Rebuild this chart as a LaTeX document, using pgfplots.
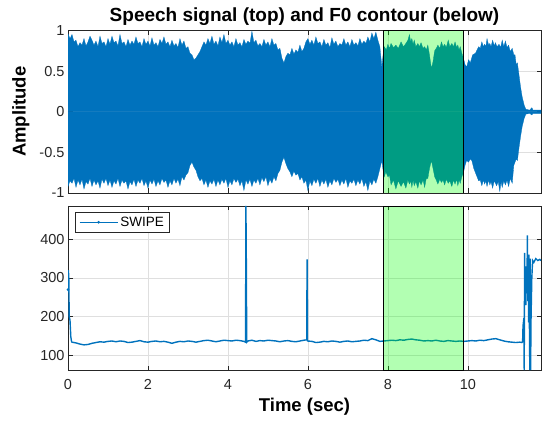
\documentclass[border=0pt]{standalone}
\usepackage{fontspec}
\setmainfont{Liberation Sans}
\usepackage{pgfplots}
\pgfplotsset{compat=1.18}

\definecolor{mblue}{RGB}{0,114,189}
\definecolor{axgray}{RGB}{38,38,38}
\definecolor{gridc}{RGB}{223,223,223}

\pgfplotsset{
  layers/gridbelow/.define layer set={axis background,axis grid,main,axis ticks,axis lines,axis tick labels,axis descriptions,axis foreground}{},
  matlab/.style={
    set layers=gridbelow,
    scale only axis,
    width=473pt,
    xmin=0, xmax=11.83,
    xtick={0,2,4,6,8,10},
    tick align=inside,
    major tick length=4.5pt,
    axis line style={color=axgray, line width=0.6pt},
    every tick/.style={color=axgray, line width=0.6pt},
    grid=major,
    grid style={color=gridc, line width=0.6pt},
    tick label style={font=\fontsize{14.5}{16}\selectfont, color=axgray},
    label style={font=\bfseries\fontsize{18.5}{20}\selectfont, color=black},
    ylabel style={at={(axis description cs:-0.0995,0.5)}, anchor=center},
  },
}

\begin{document}
\begin{tikzpicture}

% top: speech waveform (upper and lower envelope)
\begin{axis}[matlab,
  at={(68pt,230pt)}, anchor=south west,
  height=162.5pt,
  ymin=-1, ymax=1,
  ytick={-1,-0.5,0,0.5,1},
  yticklabels={-1,-0.5,0,0.5,1},
  xticklabels={},
  ylabel={Amplitude},
]
\addplot[fill=mblue, draw=mblue, line width=0.3pt] coordinates {
(0.00,0)
(0.00,0.96)(0.05,0.90)(0.10,0.95)(0.15,0.86)(0.20,0.88)(0.25,0.80)(0.30,0.85)(0.35,0.82)(0.40,0.90)(0.45,0.81)(0.50,0.86)(0.55,0.93)(0.60,0.88)(0.65,0.82)(0.70,0.87)(0.75,0.80)(0.80,0.93)(0.85,0.84)(0.90,0.86)(0.95,0.80)
(1.00,0.90)(1.05,0.83)(1.10,0.93)(1.15,0.85)(1.20,0.87)(1.25,0.81)(1.30,0.95)(1.35,0.84)(1.40,0.86)(1.45,0.80)(1.50,0.89)(1.55,0.82)(1.60,0.87)(1.65,0.83)(1.70,0.92)(1.75,0.84)(1.80,0.86)(1.85,0.80)(1.90,0.90)(1.95,0.83)
(2.00,0.87)(2.05,0.81)(2.10,0.91)(2.15,0.82)(2.20,0.85)(2.25,0.80)(2.30,0.89)(2.35,0.84)(2.40,0.92)(2.45,0.83)(2.50,0.86)(2.55,0.80)(2.60,0.88)(2.65,0.81)(2.70,0.84)(2.75,0.79)(2.80,0.90)(2.85,0.82)(2.90,0.87)(2.95,0.78)
(3.00,0.80)(3.05,0.72)(3.10,0.70)(3.15,0.64)(3.20,0.66)(3.25,0.70)(3.30,0.74)(3.35,0.80)(3.40,0.86)(3.45,0.82)(3.50,0.90)(3.55,0.84)(3.60,0.93)(3.65,0.83)(3.70,0.87)(3.75,0.81)(3.80,0.92)(3.85,0.85)(3.90,0.95)(3.95,0.84)
(4.00,0.88)(4.05,0.82)(4.10,0.86)(4.15,0.80)(4.20,0.90)(4.25,0.82)(4.30,0.85)(4.35,0.80)(4.40,0.89)(4.45,0.83)(4.50,0.87)(4.55,0.84)(4.60,0.99)(4.65,0.85)(4.70,0.88)(4.75,0.81)(4.80,0.84)(4.85,0.80)(4.90,0.89)(4.95,0.82)
(5.00,0.86)(5.05,0.80)(5.10,0.90)(5.15,0.82)(5.20,0.84)(5.25,0.76)(5.30,0.78)(5.35,0.66)(5.40,0.60)(5.45,0.68)(5.50,0.72)(5.55,0.70)(5.60,0.78)(5.65,0.71)(5.70,0.76)(5.75,0.73)(5.80,0.82)(5.85,0.74)(5.90,0.78)(5.95,0.86)
(6.00,0.90)(6.05,0.83)(6.10,0.88)(6.15,0.82)(6.20,0.92)(6.25,0.84)(6.30,0.86)(6.35,0.80)(6.40,0.89)(6.45,0.82)(6.50,0.85)(6.55,0.79)(6.60,0.91)(6.65,0.83)(6.70,0.87)(6.75,0.80)(6.80,0.84)(6.85,0.82)(6.90,0.90)(6.95,0.82)
(7.00,0.86)(7.05,0.80)(7.10,0.89)(7.15,0.82)(7.20,0.85)(7.25,0.81)(7.30,0.90)(7.35,0.83)(7.40,0.87)(7.45,0.84)(7.50,0.92)(7.55,0.86)(7.60,0.97)(7.65,0.90)(7.70,0.98)(7.75,0.88)(7.80,0.80)(7.85,0.55)
(7.88,0.70)(7.91,0.80)(7.96,0.76)(8.00,0.83)(8.04,0.78)(8.08,0.84)(8.14,0.79)(8.20,0.82)(8.26,0.78)(8.33,0.86)(8.39,0.80)(8.45,0.84)(8.50,0.88)(8.54,0.95)(8.57,0.86)(8.60,0.90)(8.63,0.83)(8.66,0.88)(8.70,0.80)(8.75,0.84)
(8.79,0.80)(8.83,0.85)(8.88,0.78)(8.92,0.80)(8.96,0.76)(9.00,0.82)(9.04,0.70)(9.09,0.53)(9.13,0.62)(9.17,0.75)(9.21,0.78)(9.25,0.82)(9.30,0.78)(9.34,0.86)(9.38,0.80)(9.42,0.83)(9.46,0.79)(9.51,0.88)(9.55,0.80)(9.60,0.84)
(9.64,0.80)(9.68,0.86)(9.72,0.79)(9.75,0.82)(9.78,0.76)(9.81,0.80)(9.85,0.72)(9.89,0.66)(9.93,0.58)(9.97,0.55)(10.02,0.64)(10.06,0.60)(10.12,0.70)(10.19,0.72)(10.23,0.76)(10.27,0.80)(10.31,0.78)(10.35,0.86)(10.39,0.80)(10.42,0.83)
(10.45,0.80)(10.48,0.90)(10.52,0.82)(10.55,0.84)(10.58,0.80)(10.62,0.88)(10.66,0.81)(10.69,0.85)(10.73,0.80)(10.78,0.83)(10.82,0.79)(10.86,0.88)(10.90,0.80)(10.94,0.87)(10.98,0.79)(11.02,0.82)(11.06,0.74)(11.11,0.78)(11.15,0.70)(11.18,0.70)
(11.21,0.58)(11.24,0.60)(11.28,0.45)(11.32,0.30)(11.36,0.18)(11.41,0.08)(11.45,0.03)(11.55,0.02)(11.60,0.05)(11.63,0.02)(11.75,0.02)(11.83,0.02)
(11.83,0)
} -- cycle;
\addplot[fill=mblue, draw=mblue, line width=0.3pt] coordinates {
(0.00,0)
(0.00,-0.92)(0.05,-0.85)(0.10,-0.88)(0.15,-0.82)(0.20,-0.93)(0.25,-0.84)(0.30,-0.90)(0.35,-0.83)(0.40,-0.95)(0.45,-0.86)(0.50,-0.89)(0.55,-0.82)(0.60,-0.92)(0.65,-0.84)(0.70,-0.90)(0.75,-0.85)(0.80,-0.94)(0.85,-0.83)(0.90,-0.88)(0.95,-0.82)
(1.00,-0.91)(1.05,-0.84)(1.10,-0.93)(1.15,-0.85)(1.20,-0.89)(1.25,-0.82)(1.30,-0.92)(1.35,-0.84)(1.40,-0.88)(1.45,-0.85)(1.50,-0.95)(1.55,-0.86)(1.60,-0.90)(1.65,-0.83)(1.70,-0.92)(1.75,-0.84)(1.80,-0.88)(1.85,-0.82)(1.90,-0.91)(1.95,-0.85)
(2.00,-0.94)(2.05,-0.84)(2.10,-0.89)(2.15,-0.83)(2.20,-0.92)(2.25,-0.85)(2.30,-0.90)(2.35,-0.82)(2.40,-0.87)(2.45,-0.84)(2.50,-0.93)(2.55,-0.85)(2.60,-0.90)(2.65,-0.82)(2.70,-0.88)(2.75,-0.83)(2.80,-0.91)(2.85,-0.80)(2.90,-0.84)(2.95,-0.78)
(3.00,-0.75)(3.05,-0.66)(3.10,-0.62)(3.15,-0.68)(3.20,-0.72)(3.25,-0.80)(3.30,-0.85)(3.35,-0.82)(3.40,-0.90)(3.45,-0.84)(3.50,-0.93)(3.55,-0.85)(3.60,-0.89)(3.65,-0.83)(3.70,-0.92)(3.75,-0.84)(3.80,-0.90)(3.85,-0.83)(3.90,-0.88)(3.95,-0.82)
(4.00,-0.93)(4.05,-0.85)(4.10,-0.90)(4.15,-0.82)(4.20,-0.87)(4.25,-0.83)(4.30,-0.91)(4.35,-0.85)(4.40,-0.97)(4.45,-0.84)(4.50,-0.89)(4.55,-0.83)(4.60,-0.92)(4.65,-0.84)(4.70,-0.88)(4.75,-0.82)(4.80,-0.90)(4.85,-0.81)(4.90,-0.86)(4.95,-0.80)
(5.00,-0.91)(5.05,-0.83)(5.10,-0.88)(5.15,-0.80)(5.20,-0.85)(5.25,-0.76)(5.30,-0.72)(5.35,-0.62)(5.40,-0.56)(5.45,-0.64)(5.50,-0.70)(5.55,-0.74)(5.60,-0.80)(5.65,-0.73)(5.70,-0.78)(5.75,-0.76)(5.80,-0.84)(5.85,-0.80)(5.90,-0.88)(5.95,-0.84)
(6.00,-0.97)(6.05,-0.85)(6.10,-0.91)(6.15,-0.83)(6.20,-0.88)(6.25,-0.82)(6.30,-0.92)(6.35,-0.84)(6.40,-0.89)(6.45,-0.83)(6.50,-0.93)(6.55,-0.85)(6.60,-0.90)(6.65,-0.82)(6.70,-0.87)(6.75,-0.83)(6.80,-0.91)(6.85,-0.84)(6.90,-0.89)(6.95,-0.82)
(7.00,-0.93)(7.05,-0.85)(7.10,-0.88)(7.15,-0.83)(7.20,-0.91)(7.25,-0.84)(7.30,-0.89)(7.35,-0.82)(7.40,-0.92)(7.45,-0.86)(7.50,-0.97)(7.55,-0.85)(7.60,-0.90)(7.65,-0.83)(7.70,-0.88)(7.75,-0.80)(7.80,-0.70)(7.85,-0.60)
(7.88,-0.72)(7.91,-0.80)(7.95,-0.74)(8.00,-0.80)(8.04,-0.78)(8.08,-0.90)(8.14,-0.84)(8.20,-0.95)(8.26,-0.85)(8.33,-0.92)(8.39,-0.86)(8.45,-0.94)(8.50,-0.84)(8.54,-0.89)(8.57,-0.85)(8.60,-0.93)(8.63,-0.84)(8.66,-0.91)(8.70,-0.86)(8.75,-0.94)
(8.79,-0.85)(8.83,-0.90)(8.88,-0.84)(8.92,-0.93)(8.96,-0.82)(9.00,-0.82)(9.04,-0.70)(9.09,-0.60)(9.13,-0.70)(9.17,-0.80)(9.21,-0.84)(9.25,-0.89)(9.30,-0.83)(9.34,-0.87)(9.38,-0.84)(9.42,-0.90)(9.46,-0.83)(9.51,-0.88)(9.55,-0.85)(9.60,-0.92)
(9.64,-0.84)(9.68,-0.89)(9.72,-0.83)(9.75,-0.91)(9.78,-0.84)(9.81,-0.88)(9.85,-0.80)(9.89,-0.75)(9.93,-0.66)(9.97,-0.60)(10.02,-0.62)(10.06,-0.58)(10.10,-0.60)(10.15,-0.70)(10.19,-0.75)(10.23,-0.80)(10.27,-0.85)(10.31,-0.84)(10.35,-0.91)(10.39,-0.84)
(10.42,-0.89)(10.45,-0.85)(10.48,-0.92)(10.52,-0.84)(10.55,-0.90)(10.58,-0.86)(10.62,-0.94)(10.66,-0.85)(10.72,-0.91)(10.76,-0.86)(10.80,-0.98)(10.83,-0.86)(10.86,-0.93)(10.90,-0.85)(10.94,-0.90)(10.98,-0.84)(11.02,-0.92)(11.06,-0.82)(11.11,-0.88)(11.15,-0.66)
(11.18,-0.62)(11.21,-0.58)(11.24,-0.60)(11.28,-0.44)(11.32,-0.30)(11.36,-0.18)(11.41,-0.08)(11.45,-0.03)(11.55,-0.02)(11.60,-0.04)(11.63,-0.02)(11.75,-0.02)(11.83,-0.02)
(11.83,0)
} -- cycle;
% selected segment
\addplot[fill=green, fill opacity=0.3, draw=black, line width=0.8pt] coordinates {
(7.89,-1)(9.89,-1)(9.89,1)(7.89,1)
} -- cycle;
\end{axis}

% bottom: F0 contour
\begin{axis}[matlab,
  at={(68pt,53pt)}, anchor=south west,
  height=164pt,
  ymin=62, ymax=486,
  ytick={100,200,300,400},
  yticklabels={100,200,300,400},
  xticklabels={0,2,4,6,8,10},
  xticklabel style={yshift=-6pt},
  xlabel={Time (sec)},
  xlabel style={yshift=-1pt},
  legend style={at={(axis description cs:0.015,0.963)}, anchor=north west,
    draw=axgray, line width=0.6pt, fill=white,
    font=\fontsize{13.5}{15}\selectfont, inner xsep=3.5pt, inner ysep=2.5pt},
  legend cell align=left,
  legend image code/.code={\draw[#1, mark repeat=2, mark phase=2] plot coordinates {(0pt,0pt) (19pt,0pt) (38pt,0pt)};},
]
\addplot[color=mblue, line width=1.4pt, mark=*, mark size=0.5pt, mark options={solid}, mark repeat=1000] coordinates {
(0.00,270)(0.01,320)(0.02,300)(0.03,200)(0.05,190)(0.07,148)(0.09,135)
(0.10,134)(0.20,132)(0.30,129)(0.40,127)(0.50,128)(0.60,131)(0.70,133)(0.80,135)(0.90,134)
(1.00,136)(1.10,137)(1.20,135)(1.30,137)(1.40,136)(1.50,133)(1.60,134)(1.70,136)(1.80,138)(1.90,135)
(2.00,134)(2.10,136)(2.20,137)(2.30,135)(2.40,136)(2.50,134)(2.60,131)(2.70,134)(2.80,136)(2.90,135)
(3.00,137)(3.10,136)(3.20,134)(3.30,136)(3.40,138)(3.50,139)(3.60,137)(3.70,135)(3.80,137)(3.90,139)
(4.00,138)(4.10,137)(4.20,139)(4.30,138)(4.40,136)(4.44,134)(4.45,486)(4.46,340)(4.47,134)(4.50,137)
(4.60,139)(4.70,136)(4.80,138)(4.90,137)(5.00,139)(5.10,138)(5.20,137)(5.30,135)(5.40,137)(5.50,138)
(5.60,136)(5.70,135)(5.80,137)(5.90,139)(5.97,140)(5.98,348)(5.99,137)(6.10,136)(6.20,133)(6.30,134)
(6.40,136)(6.50,135)(6.60,137)(6.70,136)(6.80,134)(6.90,136)(7.00,137)(7.10,135)(7.20,136)(7.30,137)
(7.40,139)(7.50,138)(7.60,143)(7.70,140)(7.80,136)(7.90,137)(8.00,138)(8.10,139)(8.20,138)(8.30,140)
(8.40,139)(8.50,141)(8.60,142)(8.70,140)(8.80,139)(8.90,137)(9.00,138)(9.10,137)(9.20,139)(9.30,137)
(9.40,136)(9.50,138)(9.60,137)(9.70,136)(9.80,137)(9.90,136)(10.00,137)(10.10,138)(10.20,137)(10.30,139)
(10.40,138)(10.50,140)(10.60,142)(10.70,143)(10.80,140)(10.90,137)(11.00,135)(11.10,134)(11.20,133)(11.30,134)
(11.35,133)(11.37,135)(11.38,175)(11.39,185)(11.40,180)(11.41,62)(11.42,365)(11.43,250)(11.44,320)(11.45,230)
(11.46,330)(11.47,260)(11.48,300)(11.49,410)(11.50,240)(11.51,320)(11.52,185)(11.53,360)(11.54,180)(11.55,62)
(11.56,350)(11.57,62)(11.58,190)(11.60,300)(11.62,345)(11.65,340)(11.70,350)(11.75,345)(11.80,348)(11.83,345)
};
\addlegendentry{SWIPE}
\addplot[fill=green, fill opacity=0.3, draw=black, line width=0.8pt, forget plot] coordinates {
(7.89,62)(9.89,62)(9.89,486)(7.89,486)
} -- cycle;
\end{axis}

\node[font=\bfseries\fontsize{19}{21}\selectfont, anchor=base] at (304.5pt,401.3pt) {Speech signal (top) and F0 contour (below)};
\path (0pt,0pt) rectangle (543pt,423pt);
\end{tikzpicture}
\end{document}
